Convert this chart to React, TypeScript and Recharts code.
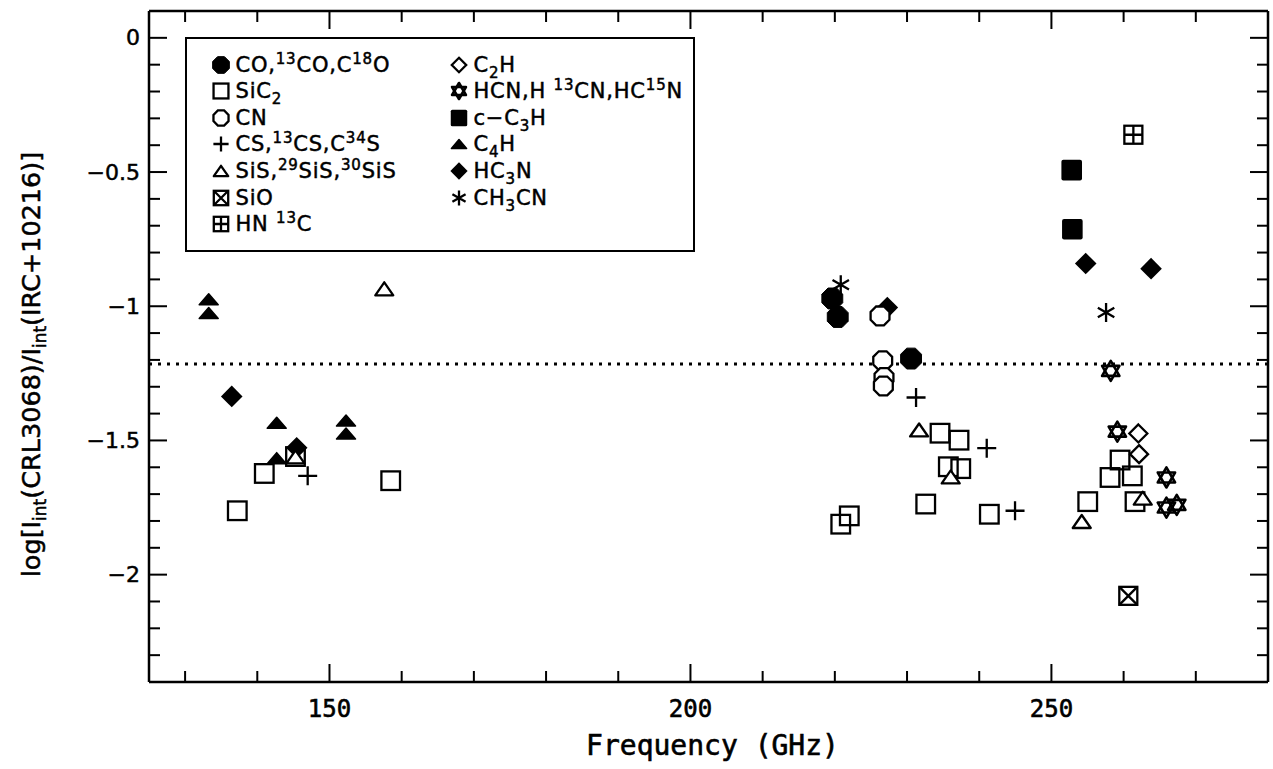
import React from 'react';
import { ScatterChart, Scatter, XAxis, YAxis, ReferenceLine } from 'recharts';

// ---------- data (frequency in GHz, log intensity ratio) ----------
const coFreq = [219.65, 220.4, 230.56];
const coLog = [-0.971, -1.04, -1.195];
const sic2Freq = [137.23, 140.97, 145.29, 158.48, 220.82, 222.0, 232.59, 234.57, 235.72, 237.2, 237.44, 241.4, 255.03, 258.12, 259.51, 261.21, 261.58];
const sic2Log = [-1.762, -1.623, -1.56, -1.65, -1.812, -1.781, -1.737, -1.473, -1.598, -1.499, -1.605, -1.775, -1.728, -1.638, -1.573, -1.632, -1.728];
const cnFreq = [226.26, 226.63, 226.81, 226.72];
const cnLog = [-1.036, -1.203, -1.266, -1.297];
const csFreq = [146.98, 231.25, 241.04, 244.96];
const csLog = [-1.632, -1.34, -1.529, -1.762];
const sisFreq = [145.29, 157.59, 231.67, 236.05, 254.2, 262.65];
const sisLog = [-1.561, -0.935, -1.461, -1.636, -1.802, -1.715];
const sioFreq = [260.65];
const sioLog = [-2.079];
const hn13cFreq = [261.35];
const hn13cLog = [-0.361];
const c2hFreq = [262.04, 262.14];
const c2hLog = [-1.474, -1.551];
const hcnFreq = [258.22, 259.13, 265.93, 265.93, 267.36];
const hcnLog = [-1.241, -1.467, -1.638, -1.75, -1.74];
const c3hFreq = [252.81, 252.9];
const c3hLog = [-0.493, -0.713];
const c4hFreq = [133.27, 133.27, 142.69, 142.69, 152.29, 152.29];
const c4hLog = [-0.974, -1.025, -1.434, -1.566, -1.426, -1.474];
const hc3nFreq = [136.46, 145.46, 227.27, 254.75, 263.8];
const hc3nLog = [-1.336, -1.527, -1.005, -0.841, -0.86];
const ch3cnFreq = [220.82, 257.57];
const ch3cnLog = [-0.92, -1.023];

const thresholdLog = -1.215;

const xTicks = [130, 140, 150, 160, 170, 180, 190, 200, 210, 220, 230, 240, 250, 260, 270];
const xMajorLabels = [150, 200, 250];
const yTicks = [0, -0.1, -0.2, -0.3, -0.4, -0.5, -0.6, -0.7, -0.8, -0.9, -1, -1.1, -1.2, -1.3, -1.4, -1.5, -1.6, -1.7, -1.8, -1.9, -2, -2.1, -2.2, -2.3];
const yMajorLabels = [0, -0.5, -1, -1.5, -2];

const zip = (f: number[], v: number[]) => f.map((x, i) => ({ freq: x, val: v[i] }));

// ---------- symbols ----------
const K = '#000';
const SW = 2.3;

const octPts = (cx: number, cy: number, r: number) =>
  Array.from({ length: 8 }, (_, i) => {
    const a = Math.PI / 8 + (i * Math.PI) / 4;
    return `${cx + r * Math.cos(a)},${cy + r * Math.sin(a)}`;
  }).join(' ');

type Sym = (cx: number, cy: number, k?: number) => React.ReactElement;

const filledOct: Sym = (cx, cy, k = 1) => <polygon points={octPts(cx, cy, 11.3 * k)} fill={K} stroke={K} strokeWidth={1} />;
const openOct: Sym = (cx, cy, k = 1) => <polygon points={octPts(cx, cy, 10.2 * k)} fill="#fff" stroke={K} strokeWidth={SW} />;
const openSquare: Sym = (cx, cy, k = 1) => (
  <rect x={cx - 9.3 * k} y={cy - 9.3 * k} width={18.6 * k} height={18.6 * k} fill="none" stroke={K} strokeWidth={SW} />
);
const plusSym: Sym = (cx, cy, k = 1) => (
  <path d={`M${cx - 9.5 * k},${cy}H${cx + 9.5 * k}M${cx},${cy - 9.5 * k}V${cy + 9.5 * k}`} stroke={K} strokeWidth={SW} fill="none" />
);
const openTri: Sym = (cx, cy, k = 1) => (
  <polygon points={`${cx - 9 * k},${cy + 6.5 * k} ${cx + 9 * k},${cy + 6.5 * k} ${cx},${cy - 6.5 * k}`} fill="#fff" stroke={K} strokeWidth={SW} strokeLinejoin="round" />
);
const sioSym: Sym = (cx, cy, k = 1) => {
  const h = 9 * k;
  return (
    <g>
      <rect x={cx - h} y={cy - h} width={2 * h} height={2 * h} fill="#fff" stroke={K} strokeWidth={SW} />
      <path d={`M${cx - h},${cy - h}L${cx + h},${cy + h}M${cx + h},${cy - h}L${cx - h},${cy + h}`} stroke={K} strokeWidth={SW} />
    </g>
  );
};
const hn13cSym: Sym = (cx, cy, k = 1) => {
  const h = 9 * k;
  return (
    <g>
      <rect x={cx - h} y={cy - h} width={2 * h} height={2 * h} fill="#fff" stroke={K} strokeWidth={SW} />
      <path d={`M${cx - h},${cy}H${cx + h}M${cx},${cy - h}V${cy + h}`} stroke={K} strokeWidth={SW} />
    </g>
  );
};
const openDiamond: Sym = (cx, cy, k = 1) => {
  const h = 9 * k;
  return <polygon points={`${cx},${cy - h} ${cx + h},${cy} ${cx},${cy + h} ${cx - h},${cy}`} fill="#fff" stroke={K} strokeWidth={SW} />;
};
const hexagram: Sym = (cx, cy, k = 1) => {
  const r = 10 * k;
  const tri = (start: number) =>
    [0, 1, 2]
      .map((i) => {
        const a = ((start + i * 120) * Math.PI) / 180;
        return `${cx + r * Math.cos(a)},${cy + r * Math.sin(a)}`;
      })
      .join(' ');
  return (
    <g fill="none" stroke={K} strokeWidth={SW + 0.3} strokeLinejoin="round">
      <polygon points={tri(-90)} />
      <polygon points={tri(90)} />
    </g>
  );
};
const filledSquare: Sym = (cx, cy, k = 1) => (
  <rect x={cx - 10.3 * k} y={cy - 10.3 * k} width={20.6 * k} height={20.6 * k} rx={2 * k} fill={K} />
);
const filledTri: Sym = (cx, cy, k = 1) => (
  <polygon points={`${cx - 9.5 * k},${cy + 5.5 * k} ${cx + 9.5 * k},${cy + 5.5 * k} ${cx},${cy - 5.5 * k}`} fill={K} stroke={K} strokeWidth={1.5} strokeLinejoin="round" />
);
const filledDiamond: Sym = (cx, cy, k = 1) => {
  const h = 10.8 * k;
  return <polygon points={`${cx},${cy - h} ${cx + h},${cy} ${cx},${cy + h} ${cx - h},${cy}`} fill={K} />;
};
const asterisk: Sym = (cx, cy, k = 1) => {
  const r = 9.5 * k;
  const d = [90, 30, 150]
    .map((deg) => {
      const a = (deg * Math.PI) / 180;
      return `M${cx - r * Math.cos(a)},${cy - r * Math.sin(a)}L${cx + r * Math.cos(a)},${cy + r * Math.sin(a)}`;
    })
    .join('');
  return <path d={d} stroke={K} strokeWidth={SW} fill="none" />;
};

// ---------- series ----------
const supS: React.CSSProperties = { fontSize: 15, position: 'relative', top: -8, verticalAlign: 'baseline' };
const subS: React.CSSProperties = { fontSize: 15, position: 'relative', top: 6, verticalAlign: 'baseline' };
const Sup = ({ c }: { c: string }) => <span style={supS}>{c}</span>;
const Sub = ({ c }: { c: string }) => <span style={subS}>{c}</span>;

type Series = { key: string; freq: number[]; val: number[]; sym: Sym; label: React.ReactNode };

const seriesCO: Series = { key: 'co', freq: coFreq, val: coLog, sym: filledOct, label: <>CO,<Sup c="13" />CO,C<Sup c="18" />O</> };
const seriesSiC2: Series = { key: 'sic2', freq: sic2Freq, val: sic2Log, sym: openSquare, label: <>SiC<Sub c="2" /></> };
const seriesCN: Series = { key: 'cn', freq: cnFreq, val: cnLog, sym: openOct, label: <>CN</> };
const seriesCS: Series = { key: 'cs', freq: csFreq, val: csLog, sym: plusSym, label: <>CS,<Sup c="13" />CS,C<Sup c="34" />S</> };
const seriesSiS: Series = { key: 'sis', freq: sisFreq, val: sisLog, sym: openTri, label: <>SiS,<Sup c="29" />SiS,<Sup c="30" />SiS</> };
const seriesSiO: Series = { key: 'sio', freq: sioFreq, val: sioLog, sym: sioSym, label: <>SiO</> };
const seriesHN13C: Series = { key: 'hn13c', freq: hn13cFreq, val: hn13cLog, sym: hn13cSym, label: <>HN <Sup c="13" />C</> };
const seriesC2H: Series = { key: 'c2h', freq: c2hFreq, val: c2hLog, sym: openDiamond, label: <>C<Sub c="2" />H</> };
const seriesHCN: Series = { key: 'hcn', freq: hcnFreq, val: hcnLog, sym: hexagram, label: <>HCN,H <Sup c="13" />CN,HC<Sup c="15" />N</> };
const seriesC3H: Series = { key: 'c3h', freq: c3hFreq, val: c3hLog, sym: filledSquare, label: <>c−C<Sub c="3" />H</> };
const seriesC4H: Series = { key: 'c4h', freq: c4hFreq, val: c4hLog, sym: filledTri, label: <>C<Sub c="4" />H</> };
const seriesHC3N: Series = { key: 'hc3n', freq: hc3nFreq, val: hc3nLog, sym: filledDiamond, label: <>HC<Sub c="3" />N</> };
const seriesCH3CN: Series = { key: 'ch3cn', freq: ch3cnFreq, val: ch3cnLog, sym: asterisk, label: <>CH<Sub c="3" />CN</> };

const legendLeft = [seriesCO, seriesSiC2, seriesCN, seriesCS, seriesSiS, seriesSiO, seriesHN13C];
const legendRight = [seriesC2H, seriesHCN, seriesC3H, seriesC4H, seriesHC3N, seriesCH3CN];
const drawOrder = [seriesHC3N, seriesCO, seriesSiC2, seriesCN, seriesCS, seriesSiS, seriesSiO, seriesHN13C, seriesC2H, seriesHCN, seriesC3H, seriesC4H, seriesCH3CN];

// ---------- axis ticks ----------
const near = (a: number, b: number) => Math.abs(a - b) < 1e-6;

const XTickBottom = (props: any) => {
  const { x, y, payload } = props;
  const major = xMajorLabels.some((m) => near(m, payload.value));
  return (
    <g>
      <line x1={x} x2={x} y1={y} y2={y - (major ? 18 : 11)} stroke={K} strokeWidth={2} />
      {major && (
        <text x={x} y={y + 27} textAnchor="middle" dominantBaseline="central" fontFamily="'DejaVu Sans Mono', monospace" fontSize={24} fill={K} stroke={K} strokeWidth={0.6}>
          {payload.value}
        </text>
      )}
    </g>
  );
};
const XTickTop = (props: any) => {
  const { x, y, payload } = props;
  const major = xMajorLabels.some((m) => near(m, payload.value));
  return <line x1={x} x2={x} y1={y} y2={y + (major ? 18 : 11)} stroke={K} strokeWidth={2} />;
};
const fmtY = (v: number) => (near(v, 0) ? '0' : '−' + String(Math.abs(v)));
const YTickLeft = (props: any) => {
  const { x, y, payload } = props;
  const major = yMajorLabels.some((m) => near(m, payload.value));
  return (
    <g>
      <line x1={x} x2={x + (major ? 18 : 11)} y1={y} y2={y} stroke={K} strokeWidth={2} />
      {major && (
        <text x={x - 9} y={y} textAnchor="end" dominantBaseline="central" fontFamily="'DejaVu Sans', sans-serif" fontSize={22} fill={K} stroke={K} strokeWidth={0.5}>
          {fmtY(payload.value)}
        </text>
      )}
    </g>
  );
};
const YTickRight = (props: any) => {
  const { x, y, payload } = props;
  const major = yMajorLabels.some((m) => near(m, payload.value));
  return <line x1={x} x2={x - (major ? 18 : 11)} y1={y} y2={y} stroke={K} strokeWidth={2} />;
};

const XLabel = (props: any) => {
  const vb = props.viewBox;
  return (
    <text x={vb.x + vb.width / 2 + 4} y={vb.y + 63} textAnchor="middle" dominantBaseline="central" fontFamily="'DejaVu Sans Mono', monospace" fontSize={28} fill={K} stroke={K} strokeWidth={0.6}>
      Frequency (GHz)
    </text>
  );
};
const YLabel = (props: any) => {
  const vb = props.viewBox;
  const cx = 40;
  const cy = vb.y + vb.height / 2 + 18;
  return (
    <text transform={`translate(${cx},${cy}) rotate(-90)`} textAnchor="middle" fontFamily="'DejaVu Sans', sans-serif" fontSize={25.5} fill={K} stroke={K} strokeWidth={0.5}>
      <tspan>log[I</tspan>
      <tspan fontSize={17} dy={6}>int</tspan>
      <tspan dy={-6}>(CRL3068)/I</tspan>
      <tspan fontSize={17} dy={6}>int</tspan>
      <tspan dy={-6}>(IRC+10216)]</tspan>
    </text>
  );
};

// ---------- legend ----------
const LEG_LEFT = 185;
const LEG_TOP = 37;
const ROW0 = 65;
const ROWH = 26.6;

const LegendColumn = ({ items, symX, textX }: { items: Series[]; symX: number; textX: number }) => (
  <>
    {items.map((s, i) => {
      const cy = ROW0 + i * ROWH - LEG_TOP;
      return (
        <React.Fragment key={s.key}>
          <svg style={{ position: 'absolute', left: symX - LEG_LEFT - 12, top: cy - 12, width: 24, height: 24, overflow: 'visible' }}>
            {s.sym(12, 12, 0.8)}
          </svg>
          <div
            style={{
              position: 'absolute',
              left: textX - LEG_LEFT,
              top: cy - 14,
              height: 28,
              lineHeight: '28px',
              whiteSpace: 'nowrap',
              fontFamily: "'DejaVu Sans', sans-serif",
              fontSize: 21,
              letterSpacing: 0.8,
              color: K,
              WebkitTextStroke: '0.5px #000',
            }}
          >
            {s.label}
          </div>
        </React.Fragment>
      );
    })}
  </>
);

export default function App() {
  return (
    <div style={{ position: 'absolute', left: 0, top: 0, width: 1273, height: 769, background: '#fff', overflow: 'hidden' }}>
      <ScatterChart width={1273} height={769} margin={{ top: 10, right: 4, bottom: 27, left: 89 }}>
        <XAxis
          xAxisId="b"
          dataKey="freq"
          type="number"
          domain={[125, 280]}
          allowDataOverflow
          ticks={xTicks}
          interval={0}
          height={60}
          tickSize={0}
          tickMargin={0}
          tickLine={false}
          tick={<XTickBottom />}
          axisLine={{ stroke: K, strokeWidth: 2.5 }}
          label={{ content: <XLabel /> }}
        />
        <XAxis
          xAxisId="t"
          orientation="top"
          dataKey="freq"
          type="number"
          domain={[125, 280]}
          allowDataOverflow
          ticks={xTicks}
          interval={0}
          height={1}
          tickSize={0}
          tickMargin={0}
          tickLine={false}
          tick={<XTickTop />}
          axisLine={{ stroke: K, strokeWidth: 2.5 }}
        />
        <YAxis
          yAxisId="l"
          dataKey="val"
          type="number"
          domain={[-2.4, 0.1]}
          allowDataOverflow
          ticks={yTicks}
          interval={0}
          width={60}
          tickSize={0}
          tickMargin={0}
          tickLine={false}
          tick={<YTickLeft />}
          axisLine={{ stroke: K, strokeWidth: 2.5 }}
          label={{ content: <YLabel /> }}
        />
        <YAxis
          yAxisId="r"
          orientation="right"
          dataKey="val"
          type="number"
          domain={[-2.4, 0.1]}
          allowDataOverflow
          ticks={yTicks}
          interval={0}
          width={1}
          tickSize={0}
          tickMargin={0}
          tickLine={false}
          tick={<YTickRight />}
          axisLine={{ stroke: K, strokeWidth: 2.5 }}
        />
        <ReferenceLine xAxisId="b" yAxisId="l" y={thresholdLog} stroke={K} strokeWidth={3} strokeDasharray="3 6" />
        {drawOrder.map((s) => (
          <Scatter
            key={s.key}
            xAxisId="b"
            yAxisId="l"
            data={zip(s.freq, s.val)}
            isAnimationActive={false}
            shape={(p: any) => s.sym(p.cx, p.cy)}
          />
        ))}
        <Scatter xAxisId="t" yAxisId="r" data={zip(coFreq, coLog)} isAnimationActive={false} shape={() => <g />} />
      </ScatterChart>
      <div
        style={{
          position: 'absolute',
          left: LEG_LEFT,
          top: LEG_TOP,
          width: 510,
          height: 215,
          boxSizing: 'border-box',
          border: '2.5px solid #000',
          background: '#fff',
        }}
      >
        <div style={{ position: 'absolute', left: -2.5, top: -2.5 }}>
          <LegendColumn items={legendLeft} symX={221} textX={236} />
          <LegendColumn items={legendRight} symX={459} textX={474} />
        </div>
      </div>
    </div>
  );
}
